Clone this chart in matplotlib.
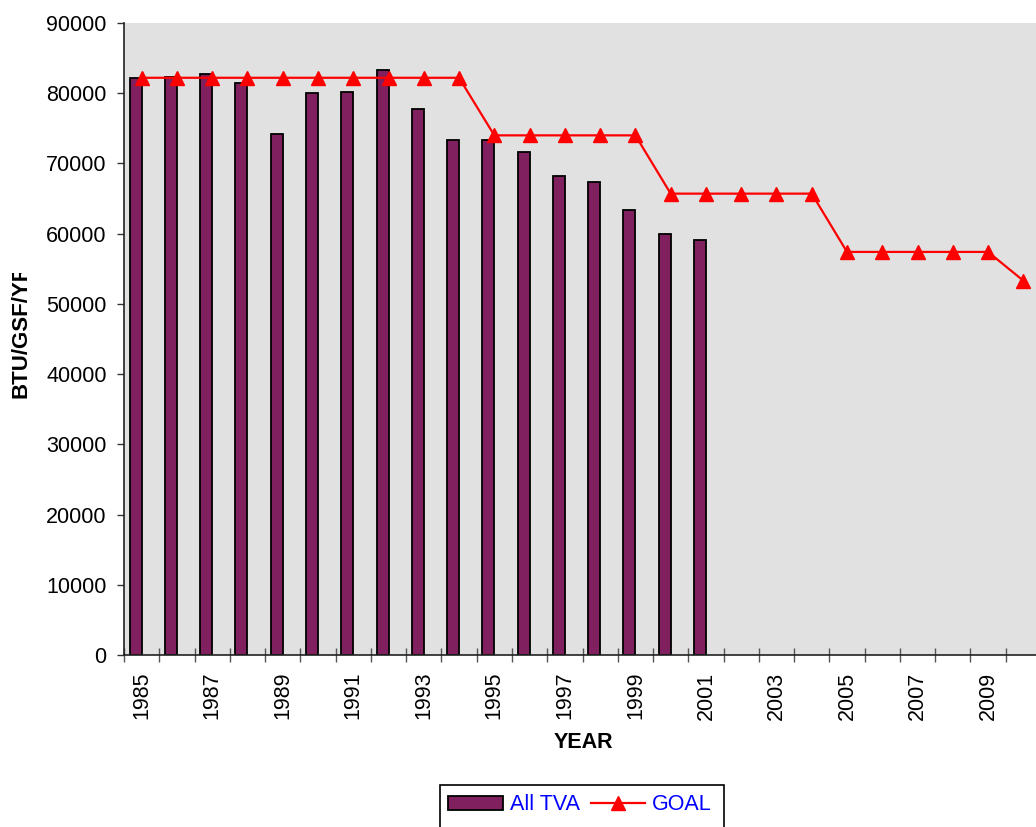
import matplotlib
matplotlib.use("Agg")
import matplotlib.pyplot as plt
import numpy as np
from matplotlib.patches import Rectangle, Patch
from matplotlib.lines import Line2D

plt.rcParams['font.family'] = ['Liberation Sans', 'DejaVu Sans']

years = list(range(1985, 2011))
all_tva = [82100, 82300, 82800, 81400, 74200, 80000, 80200, 83300, 77700,
           73300, 73300, 71700, 68200, 67400, 63400, 60000, 59100]
goal = [82200] * 10 + [74000] * 5 + [65700] * 5 + [57400] * 5 + [53300]
tick_labels = [str(y) for y in years[::2]]

W, H = 1036, 827
fig = plt.figure(figsize=(W / 100, H / 100), dpi=100)
ax = fig.add_axes([124 / W, 1 - 655 / H, (1041 - 124) / W, (655 - 23) / H])
ax.set_facecolor('#E1E1E1')

x = np.arange(len(years))
bw = 0.34
ax.bar(x[:len(all_tva)] - bw, all_tva, width=bw, align='edge',
       color='#80205F', edgecolor='black', linewidth=1.3, zorder=2)
ax.plot(x, goal, color='#FF0000', lw=1.6, marker='^', markersize=10,
        markeredgecolor='#FF0000', zorder=3)

ax.set_xlim(-0.5, len(years) - 0.5)
ax.set_ylim(0, 90000)
ax.set_yticks(np.arange(0, 90001, 10000))
ax.tick_params(axis='y', direction='out', length=5, width=1, pad=7.5,
               labelsize=15.5, color='#333333')
ax.set_xticks(x[::2])
ax.set_xticklabels(tick_labels, rotation=90)
ax.set_xticks(np.arange(-0.5, len(years), 1), minor=True)
ax.tick_params(axis='x', which='major', length=0, pad=12, labelsize=15.5)
ax.tick_params(axis='x', which='minor', direction='inout', length=9.5,
               width=1, color='#555555')

for s in ['top', 'right']:
    ax.spines[s].set_visible(False)
for s in ['left', 'bottom']:
    ax.spines[s].set_color('#222222')
    ax.spines[s].set_linewidth(1.2)

fig.text(583 / W, 1 - 743 / H, 'YEAR', fontsize=15.5, fontweight='bold',
         ha='center', va='center')
fig.text(21 / W, 1 - 398 / H, 'BTU/GSF/YR', fontsize=16,
         fontweight='bold', rotation=90, ha='center', va='bottom', zorder=3)
# the axis title is cut off at its top, as in the reference
fig.patches.append(Rectangle((2 / W, 1 - 273 / H), 36 / W, 273 / H,
                             transform=fig.transFigure, facecolor='white',
                             edgecolor='none', zorder=5))

# legend
fig.patches.append(Rectangle((440 / W, 1 - 850 / H), (724 - 440) / W,
                             (850 - 785) / H, transform=fig.transFigure,
                             facecolor='white', edgecolor='black', lw=1.2,
                             clip_on=False))
handles = [Patch(facecolor='#80205F', edgecolor='black', lw=1.3),
           Line2D([], [], color='#FF0000', lw=1.6, marker='^', markersize=10)]
leg = fig.legend(handles, ['All TVA', 'GOAL'], ncol=2, frameon=False,
                 loc='center', bbox_to_anchor=(580 / W, 1 - 805 / H),
                 fontsize=15.5, handlelength=2.55, handleheight=0.65,
                 handletextpad=0.3, columnspacing=0.5, borderpad=0)
for t in leg.get_texts():
    t.set_color('#0000FF')

fig.savefig('out.png', dpi=100, facecolor='white')
